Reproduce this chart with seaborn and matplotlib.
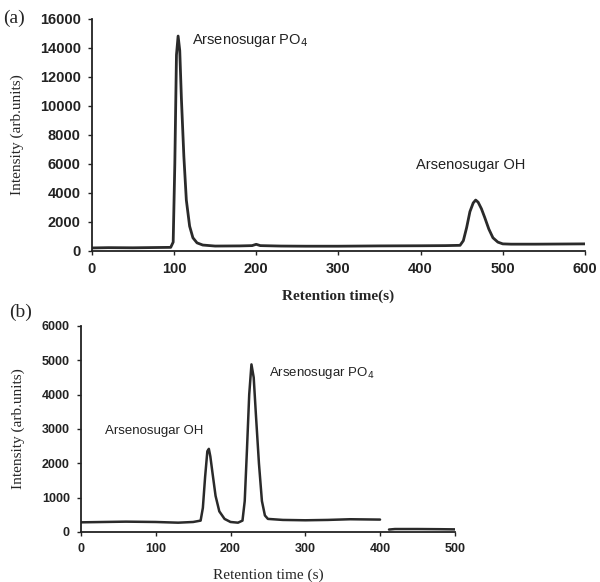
import matplotlib
matplotlib.use("Agg")
import matplotlib.pyplot as plt
import seaborn as sns
import pandas as pd

# ---- Panel (a) trace: retention time (s), intensity (arb. units)
time_a = [0, 20, 50, 80, 96, 99, 101, 103, 105, 107, 109, 112, 115, 119, 123, 128, 135,
          150, 180, 195, 200, 205, 230, 260, 300, 350, 400, 430, 448, 452, 456, 460, 464,
          467, 470, 474, 478, 483, 488, 494, 500, 510, 540, 570, 600]
intensity_a = [200, 220, 210, 230, 240, 600, 6000, 13500, 14800, 13800, 10500, 6500, 3500,
               1700, 900, 550, 400, 330, 340, 360, 450, 360, 330, 320, 320, 340, 350, 360,
               380, 700, 1600, 2700, 3300, 3500, 3350, 2900, 2300, 1500, 900, 600, 480, 460,
               460, 470, 480]

# ---- Panel (b) trace
time_b = [0, 30, 60, 100, 130, 150, 160, 163, 166, 169, 171, 173, 176, 180, 185, 192, 200,
          210, 216, 219, 222, 225, 228, 231, 234, 238, 242, 246, 250, 270, 300, 330, 360, 400]
intensity_b = [280, 290, 300, 290, 270, 290, 330, 700, 1600, 2350, 2420, 2200, 1700, 1050,
               600, 380, 290, 270, 330, 900, 2400, 4000, 4880, 4500, 3400, 2000, 900, 480,
               380, 350, 340, 350, 370, 360]
# second (low) trace in panel (b)
time_b2 = [412, 420, 450, 480, 500]
intensity_b2 = [70, 85, 85, 80, 75]

# annotations
labels_a = ["Arsenosugar PO$_4$", "Arsenosugar OH"]
label_pos_a = [(122, 14500), (394, 5900)]
labels_b = ["Arsenosugar OH", "Arsenosugar PO$_4$"]
label_pos_b = [(32, 2950), (252, 4620)]

df_a = pd.DataFrame({"t": time_a, "I": intensity_a})
df_b = pd.DataFrame({"t": time_b, "I": intensity_b})
df_b2 = pd.DataFrame({"t": time_b2, "I": intensity_b2})

sns.set_theme(style="ticks")
plt.rcParams["font.family"] = ["Liberation Sans", "DejaVu Sans"]

line_color = "#2a2a2a"
fig = plt.figure(figsize=(6.0, 5.82), dpi=100)
ax1 = fig.add_axes([0.153, 0.569, 0.822, 0.399])
ax2 = fig.add_axes([0.135, 0.086, 0.623, 0.354])

sns.lineplot(data=df_a, x="t", y="I", ax=ax1, color=line_color, linewidth=2.0, estimator=None, sort=False)
sns.lineplot(data=df_b, x="t", y="I", ax=ax2, color=line_color, linewidth=1.8, estimator=None, sort=False)
sns.lineplot(data=df_b2, x="t", y="I", ax=ax2, color=line_color, linewidth=1.8, estimator=None, sort=False)

serif = ["Liberation Serif", "DejaVu Serif"]

# Panel (a)
ax1.set_xlim(0, 600)
ax1.set_ylim(0, 16000)
ax1.set_xticks(range(0, 601, 100))
ax1.set_yticks(range(0, 16001, 2000))
ax1.set_xlabel("Retention time(s)", fontfamily=serif, fontsize=11, fontweight="bold", labelpad=10)
ax1.set_ylabel("Intensity (arb.units)", fontfamily=serif, fontsize=11, labelpad=11)
for lab, (x, y) in zip(labels_a, label_pos_a):
    ax1.text(x, y, lab, fontsize=10.5, color="#222222", va="center", ha="left")

# Panel (b)
ax2.set_xlim(0, 500)
ax2.set_ylim(0, 6000)
ax2.set_xticks(range(0, 501, 100))
ax2.set_yticks(range(0, 6001, 1000))
ax2.set_xlabel("Retention time (s)", fontfamily=serif, fontsize=11, labelpad=10)
ax2.set_ylabel("Intensity (arb.units)", fontfamily=serif, fontsize=11, labelpad=12)
for lab, (x, y) in zip(labels_b, label_pos_b):
    ax2.text(x, y, lab, fontsize=9.5, color="#222222", va="center", ha="left")

for ax, fs in ((ax1, 10.5), (ax2, 9)):
    sns.despine(ax=ax)
    for side in ("left", "bottom"):
        ax.spines[side].set_color("#222222")
        ax.spines[side].set_linewidth(1.3)
    ax.tick_params(axis="both", direction="out", length=3, width=1, colors="#222222",
                   labelsize=fs, pad=5)
    for t in ax.get_xticklabels() + ax.get_yticklabels():
        t.set_fontweight("bold")

fig.text(0.006, 0.968, "(a)", fontfamily=serif, fontsize=14, va="center", ha="left")
fig.text(0.015, 0.463, "(b)", fontfamily=serif, fontsize=14, va="center", ha="left")

fig.savefig("out.png", dpi=100, facecolor="white")
